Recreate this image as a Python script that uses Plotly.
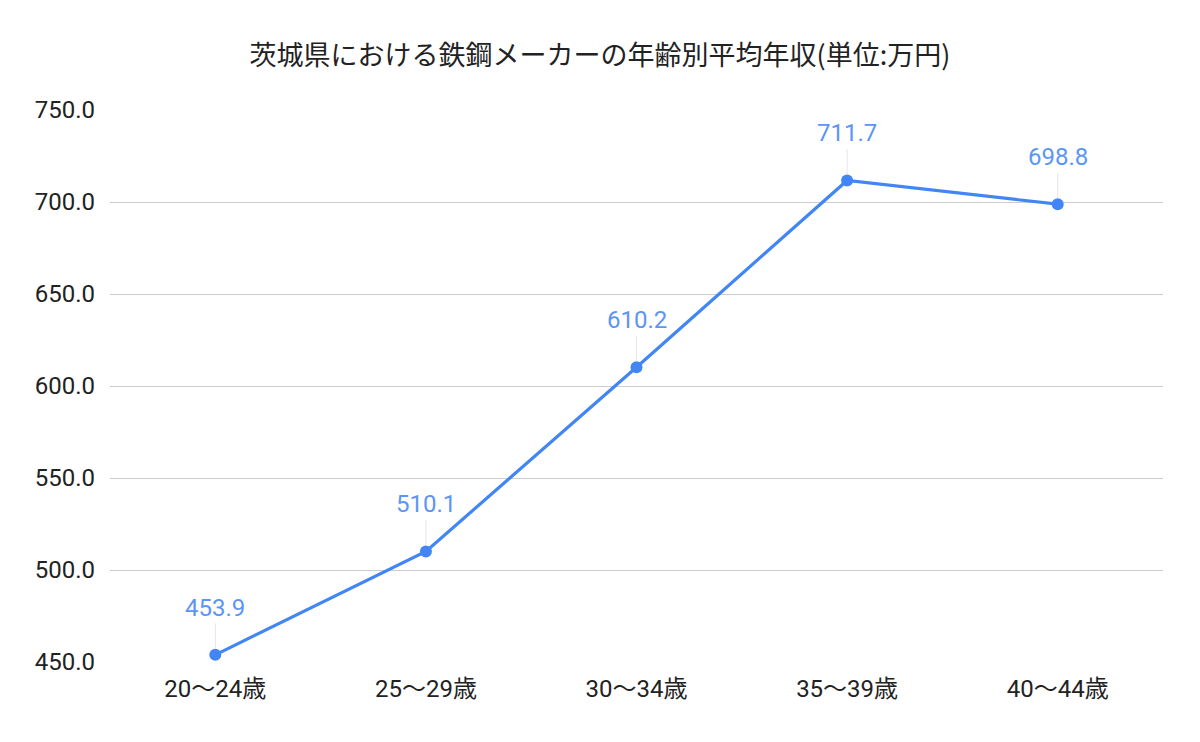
import plotly.graph_objects as go

# 年齢別平均年収 (万円)
age_groups = ["20～24歳", "25～29歳", "30～34歳", "35～39歳", "40～44歳"]
avg_income = [453.9, 510.1, 610.2, 711.7, 698.8]
y_ticks = [450, 500, 550, 600, 650, 700, 750]

line_color = "#4285F4"
font_family = "Roboto, 'Noto Sans CJK JP', sans-serif"

fig = go.Figure()
fig.add_trace(go.Scatter(
    x=age_groups,
    y=avg_income,
    mode="lines+markers",
    line=dict(color=line_color, width=3.2),
    marker=dict(color=line_color, size=12),
    hoverinfo="x+y",
))

# data labels with thin leader lines
for cat, val in zip(age_groups, avg_income):
    fig.add_annotation(
        x=cat, y=val, text=f"{val:.1f}",
        showarrow=True, arrowhead=0, arrowwidth=1, arrowcolor="#e6e6e6",
        ax=0, ay=-47, standoff=6,
        font=dict(family=font_family, size=24, color="#5b95f5"),
    )

# page body has an 8px margin, so the figure is sized to fit inside it
fig.update_layout(
    width=1184, height=726,
    paper_bgcolor="white", plot_bgcolor="white",
    margin=dict(l=102, r=29, t=102, b=72),
    showlegend=False,
    title=dict(
        text="茨城県における鉄鋼メーカーの年齢別平均年収(単位:万円)",
        x=0.5, xanchor="center", y=0.935, yanchor="middle",
        font=dict(family="'Noto Sans CJK JP', Roboto, sans-serif", size=27, color="#222222"),
    ),
    font=dict(family=font_family, color="#222222"),
)
fig.update_xaxes(
    type="category", range=[-0.5, 4.5],
    showgrid=False, showline=False, zeroline=False,
    tickfont=dict(family=font_family, size=24, color="#222222"),
    ticks="", ticklabelstandoff=10,
)
fig.update_yaxes(
    range=[450, 750], tickvals=y_ticks,
    ticktext=[f"{v:.1f}" for v in y_ticks],
    showgrid=True, gridcolor="#cccccc", gridwidth=1,
    zeroline=False, showline=False, ticks="",
    tickfont=dict(family=font_family, size=24, color="#222222"),
    ticklabelstandoff=14,
)

fig.write_html("out.html")
